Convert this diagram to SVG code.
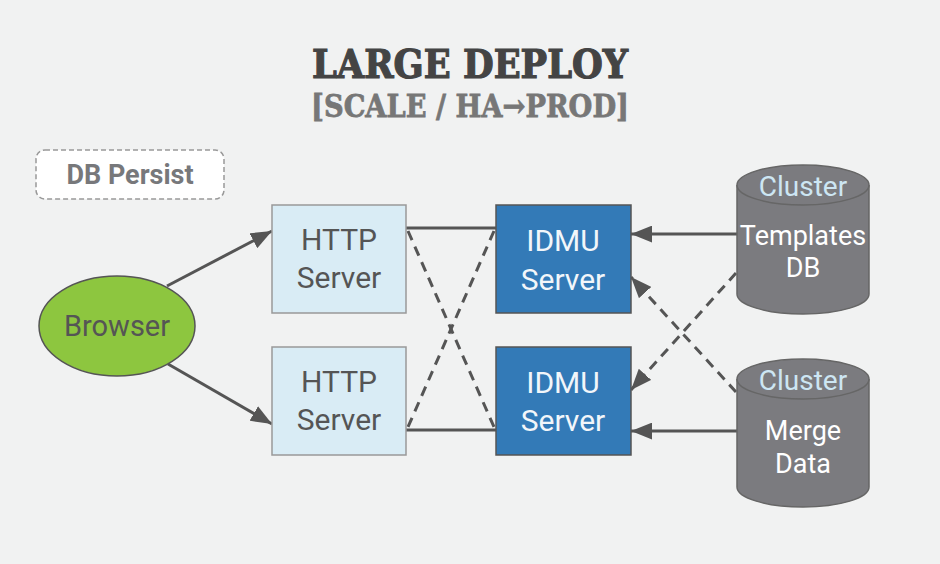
<svg xmlns="http://www.w3.org/2000/svg" width="940" height="564" viewBox="0 0 940 564">
<defs>
<marker id="ahb" viewBox="0 0 20 16" markerWidth="21" markerHeight="17" refX="20" refY="8" orient="auto" markerUnits="userSpaceOnUse">
<path d="M0,0 L20,8 L0,16 z" fill="#555"/>
</marker>
</defs>
<style>
.t{font-family:Roboto,"Liberation Sans",sans-serif;text-anchor:middle}
.http rect{fill:#d9ecf5;stroke:#999;stroke-width:1.5}
.http text{fill:#555;font-size:30px}
.idmu rect{fill:#337ab7;stroke:#555;stroke-width:1.5}
.idmu text{fill:#f2f6fa;font-size:30px}
.cyl path,.cyl ellipse{fill:#7b7b7f;stroke:#666;stroke-width:1.5}
.cyl .c{fill:#cde6f3;font-size:28px}
.cyl .w{fill:#fff;font-size:27px}
.ln{stroke:#555;stroke-width:3;fill:none}
.ds{stroke:#555;stroke-width:3;fill:none;stroke-dasharray:10,7}
</style>
<rect width="940" height="564" fill="#f1f2f2"/>
<g id="title">
<text x="470" y="78" font-family="'DejaVu Serif',serif" font-weight="bold" font-size="39" fill="#444" stroke="#444" stroke-width="1.2" text-anchor="middle" textLength="316" lengthAdjust="spacingAndGlyphs">LARGE DEPLOY</text>
<text x="470" y="117" font-family="'DejaVu Serif',serif" font-weight="bold" font-size="32" fill="#777" stroke="#777" stroke-width="0.8" text-anchor="middle" textLength="318" lengthAdjust="spacingAndGlyphs">[SCALE / HA→PROD]</text>
</g>
<g id="dbpersist">
<rect x="36" y="150" width="188" height="49" rx="9" fill="#fff" stroke="#999" stroke-width="1.5" stroke-dasharray="5,3"/>
<text class="t" x="130" y="184" font-size="27" font-weight="bold" fill="#77787b">DB Persist</text>
</g>
<g id="connectors">
<line class="ln" x1="167" y1="286" x2="272" y2="231" marker-end="url(#ahb)"/>
<line class="ln" x1="168" y1="364" x2="272" y2="424" marker-end="url(#ahb)"/>
<line class="ln" x1="406" y1="228" x2="496" y2="228"/>
<line class="ln" x1="406" y1="430" x2="496" y2="430"/>
<line class="ds" x1="408" y1="231" x2="494" y2="427"/>
<line class="ds" x1="494" y1="231" x2="408" y2="427"/>
<line class="ln" x1="737" y1="234" x2="631" y2="234" marker-end="url(#ahb)"/>
<line class="ln" x1="737" y1="431" x2="631" y2="431" marker-end="url(#ahb)"/>
<line class="ds" x1="736" y1="273" x2="631" y2="390" marker-end="url(#ahb)"/>
<line class="ds" x1="736" y1="392" x2="631" y2="277" marker-end="url(#ahb)"/>
</g>
<g id="browser">
<ellipse cx="117" cy="326" rx="78" ry="50" fill="#8dc63f" stroke="#555" stroke-width="1.5"/>
<text class="t" x="117" y="336" font-size="29" fill="#555">Browser</text>
</g>
<g id="http1" class="http">
<rect x="272" y="205" width="134" height="108"/>
<text class="t" x="339" y="250">HTTP</text>
<text class="t" x="339" y="288">Server</text>
</g>
<g id="http2" class="http">
<rect x="272" y="347" width="134" height="108"/>
<text class="t" x="339" y="392">HTTP</text>
<text class="t" x="339" y="430">Server</text>
</g>
<g id="idmu1" class="idmu">
<rect x="496" y="205" width="135" height="108"/>
<text class="t" x="563" y="251">IDMU</text>
<text class="t" x="563" y="290">Server</text>
</g>
<g id="idmu2" class="idmu">
<rect x="496" y="347" width="135" height="108"/>
<text class="t" x="563" y="393">IDMU</text>
<text class="t" x="563" y="431">Server</text>
</g>
<g id="templates" class="cyl">
<path d="M737,185 L737,294 A66,20 0 0 0 869,294 L869,185"/>
<ellipse cx="803" cy="185" rx="66" ry="20"/>
<text class="t c" x="803" y="196">Cluster</text>
<text class="t w" x="803" y="245">Templates</text>
<text class="t w" x="803" y="277">DB</text>
</g>
<g id="mergedata" class="cyl">
<path d="M737,379 L737,487 A66,20 0 0 0 869,487 L869,379"/>
<ellipse cx="803" cy="379" rx="66" ry="20"/>
<text class="t c" x="803" y="390">Cluster</text>
<text class="t w" x="803" y="440">Merge</text>
<text class="t w" x="803" y="473">Data</text>
</g>
</svg>
